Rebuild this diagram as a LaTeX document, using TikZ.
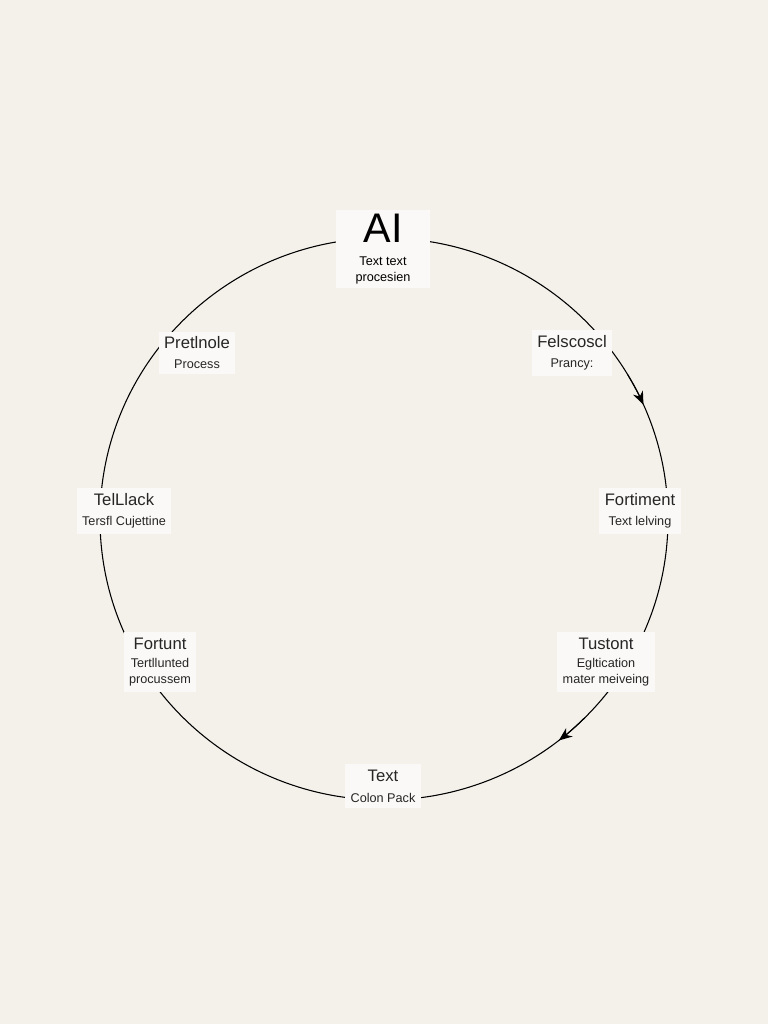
\documentclass[tikz,border=0pt]{standalone}
\usepackage{fontspec}
\setmainfont{Liberation Sans}
\usetikzlibrary{arrows.meta}
\definecolor{bgc}{HTML}{F4F1EA}
\newcommand\myttl{\fontsize{12.5}{14}\selectfont}
\newcommand\mysub{\fontsize{9.5}{12}\selectfont}
\begin{document}
\begin{tikzpicture}[x=0.75pt,y=-0.75pt,
  box/.style={fill=white!60!bgc,inner sep=4pt,align=center,text=black!85},
  tip/.style={line width=0.8pt,-{Stealth[length=10pt,width=8pt]}}]
\fill[bgc] (0,0) rectangle (768,1024);
\coordinate (c) at (384,519);
\draw[line width=0.8pt] (c) ++(0:284) arc[start angle=0,end angle=360,x radius=284,y radius=281];
\draw[tip] (c) ++(-31:284 and 281) arc[start angle=-31,end angle=-24,x radius=284,y radius=281];
\draw[tip] (c) ++(45:284 and 281) arc[start angle=45,end angle=52,x radius=284,y radius=281];
\node[box,minimum width=71pt,minimum height=58pt] (ai) at (383,249) {};
\node[font=\fontsize{31}{31}\selectfont] (ait) at (383,228) {AI};
\node[font=\mysub,align=center] (ais) at (383,270) {Text text\\procesien};
\node[box] (n1) at (197,353) {\myttl Pretlnole\\[3pt]\mysub Process};
\node[box] (n2) at (572,353) {\myttl Felscoscl\\[3pt]\mysub Prancy:};
\node[box] (n3) at (124,511) {\myttl TelLlack\\[3pt]\mysub Tersfl Cujettine};
\node[box] (n4) at (640,511) {\myttl Fortiment\\[3pt]\mysub Text lelving};
\node[box] (n5) at (160,662) {\myttl Fortunt\\[2pt]\mysub Tertllunted\\\mysub procussem};
\node[box] (n6) at (606,662) {\myttl Tustont\\[2pt]\mysub Egltication\\\mysub mater meiveing};
\node[box] (n7) at (383,786) {\myttl Text\\[4pt]\mysub Colon Pack};
\end{tikzpicture}
\end{document}
